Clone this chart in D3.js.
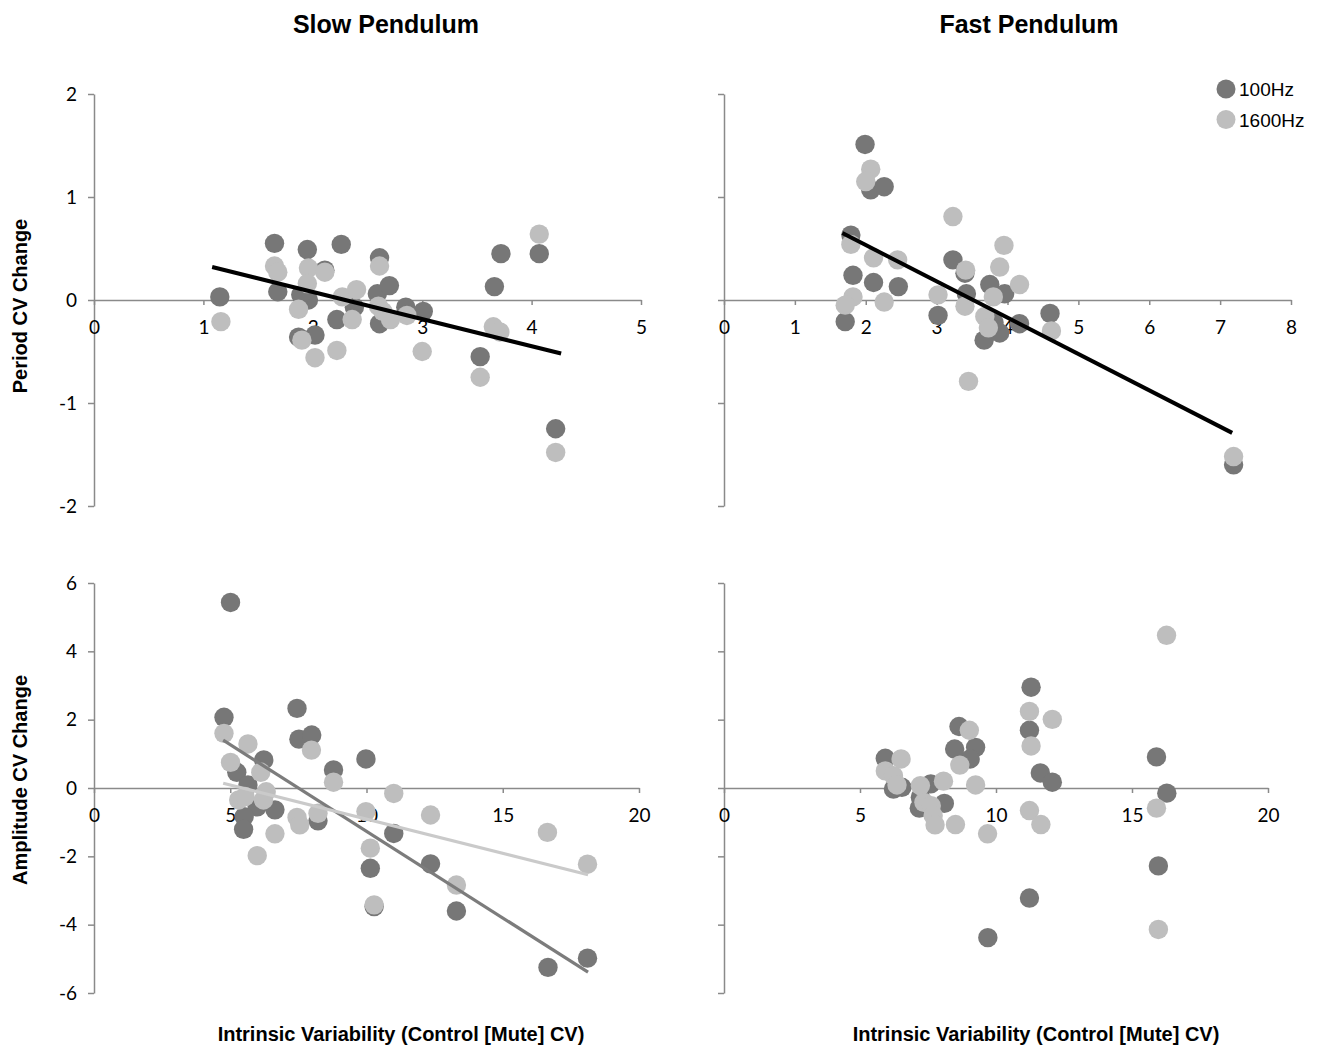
<!DOCTYPE html>
<html>
<head>
<meta charset="utf-8">
<script src="https://cdn.jsdelivr.net/npm/d3@7"></script>
<style>
  body { margin: 0; background: #fff; }
  svg { display: block; }
  .axis path, .axis line { stroke: #8a8a8a; stroke-width: 1.5; }
  .axis text { font-family: Lato, "Open Sans", sans-serif; font-size: 19px; fill: #000; }
  .title { font-family: "Liberation Sans", Arial, sans-serif; font-weight: bold; font-size: 25px; }
  .label { font-family: "Liberation Sans", Arial, sans-serif; font-weight: bold; font-size: 20px; }
  .legend text { font-family: "Liberation Sans", Arial, sans-serif; font-size: 19px; }
</style>
</head>
<body>
<svg width="1320" height="1048"></svg>
<script>
// series names / column titles
var seriesNames = ['100Hz', '1600Hz'];
var columnTitles = ['Slow Pendulum', 'Fast Pendulum'];
var rowTitles = ['Period CV Change', 'Amplitude CV Change'];
var xTitle = 'Intrinsic Variability (Control [Mute] CV)';

// tick values
var periodYTicks = [-2, -1, 0, 1, 2];
var ampYTicks = [-6, -4, -2, 0, 2, 4, 6];
var slowPeriodXTicks = [0, 1, 2, 3, 4, 5];
var fastPeriodXTicks = [0, 1, 2, 3, 4, 5, 6, 7, 8];
var ampXTicks = [0, 5, 10, 15, 20];

// slow pendulum, period
var slowPeriod100 = [
  [1.15, 0.03], [1.65, 0.55], [1.68, 0.08], [1.95, 0.49], [1.96, 0.0], [1.89, 0.05],
  [1.87, -0.36], [2.02, -0.34], [2.11, 0.29], [2.26, 0.54], [2.22, -0.19], [2.38, -0.07],
  [2.61, 0.41], [2.59, 0.06], [2.61, -0.23], [2.70, 0.14], [2.85, -0.07], [3.01, -0.11],
  [3.53, -0.55], [3.66, 0.13], [3.72, 0.45], [4.07, 0.45], [4.22, -1.25]
];
var slowPeriod1600 = [
  [1.16, -0.21], [1.65, 0.33], [1.68, 0.27], [1.96, 0.31], [1.95, 0.16], [1.87, -0.09],
  [1.90, -0.39], [2.02, -0.56], [2.11, 0.27], [2.22, -0.49], [2.27, 0.03], [2.40, 0.10],
  [2.36, -0.19], [2.61, 0.33], [2.60, -0.06], [2.64, -0.11], [2.71, -0.19], [2.86, -0.15],
  [3.00, -0.50], [3.65, -0.26], [3.71, -0.31], [3.53, -0.75], [4.07, 0.64], [4.22, -1.48]
];
var slowPeriodTrend = [[1.08, 0.32], [4.27, -0.52]];

// fast pendulum, period
var fastPeriod100 = [
  [1.99, 1.51], [2.07, 1.07], [2.26, 1.10], [1.79, 0.63], [1.82, 0.24], [2.11, 0.17],
  [2.46, 0.13], [1.71, -0.21], [3.23, 0.39], [3.02, -0.15], [3.42, 0.06], [3.40, 0.26],
  [3.75, 0.15], [3.96, 0.06], [4.17, -0.23], [4.60, -0.13], [3.67, -0.39], [3.89, -0.32],
  [3.81, -0.22], [7.19, -1.60]
];
var fastPeriod1600 = [
  [2.07, 1.27], [2.00, 1.15], [1.79, 0.54], [2.11, 0.41], [2.45, 0.39], [1.82, 0.03],
  [1.71, -0.05], [2.26, -0.02], [3.23, 0.81], [3.02, 0.05], [3.41, 0.29], [3.40, -0.06],
  [3.95, 0.53], [3.89, 0.32], [4.17, 0.15], [3.80, 0.03], [3.68, -0.16], [3.73, -0.27],
  [4.62, -0.30], [3.45, -0.79], [7.19, -1.52]
];
var fastPeriodTrend = [[1.67, 0.65], [7.17, -1.29]];

// slow pendulum, amplitude
var slowAmp100 = [
  [5.01, 5.43], [4.77, 2.07], [7.45, 2.33], [7.52, 1.43], [7.99, 1.55], [6.23, 0.82],
  [5.24, 0.46], [5.65, 0.09], [5.99, -0.55], [6.64, -0.64], [5.51, -0.84], [5.49, -1.21],
  [8.79, 0.53], [8.22, -0.96], [9.98, 0.85], [11.0, -1.33], [10.14, -2.35], [12.35, -2.22],
  [13.30, -3.60], [16.66, -5.25], [18.11, -4.98], [10.28, -3.47]
];
var slowAmp1600 = [
  [4.77, 1.60], [5.01, 0.75], [5.65, 1.29], [6.12, 0.46], [5.31, -0.35], [5.54, -0.25],
  [6.32, -0.11], [6.22, -0.35], [5.99, -1.98], [6.64, -1.34], [7.45, -0.86], [7.55, -1.08],
  [7.98, 1.11], [8.22, -0.74], [8.79, 0.17], [9.98, -0.69], [10.14, -1.76], [11.0, -0.16],
  [12.35, -0.79], [13.30, -2.84], [10.28, -3.42], [16.64, -1.30], [18.11, -2.23]
];
var slowAmpTrend100 = [[4.74, 1.40], [18.13, -5.39]];
var slowAmpTrend1600 = [[4.74, 0.14], [18.13, -2.54]];

// fast pendulum, amplitude
var fastAmp100 = [
  [5.93, 0.87], [6.23, -0.03], [6.54, 0.02], [7.60, 0.12], [7.22, -0.27], [7.18, -0.59],
  [8.10, -0.45], [8.64, 1.80], [8.48, 1.14], [9.25, 1.19], [9.05, 0.85], [11.29, 2.95],
  [11.23, 1.69], [11.63, 0.44], [12.07, 0.17], [11.23, -3.22], [9.70, -4.38], [15.90, 0.91],
  [16.28, -0.15], [15.97, -2.28]
];
var fastAmp1600 = [
  [5.93, 0.50], [6.51, 0.85], [6.23, 0.36], [6.36, 0.09], [7.22, 0.07], [7.35, -0.42],
  [7.62, -0.52], [7.69, -0.81], [7.76, -1.08], [8.07, 0.20], [8.51, -1.07], [9.02, 1.69],
  [8.67, 0.67], [9.25, 0.09], [9.69, -1.34], [11.23, 2.24], [11.29, 1.23], [11.23, -0.66],
  [11.65, -1.07], [12.07, 2.01], [16.27, 4.47], [15.90, -0.59], [15.97, -4.14]
];

var darkColor = '#777777';
var lightColor = '#bebebe';

var svg = d3.select('svg');

var panels = [
  { x: [94, 641], y: [506, 94], xTicks: slowPeriodXTicks, yTicks: periodYTicks, yLabels: true,
    dark: slowPeriod100, light: slowPeriod1600,
    trends: [{ d: slowPeriodTrend, color: '#000', w: 4 }] },
  { x: [724, 1291], y: [506, 94], xTicks: fastPeriodXTicks, yTicks: periodYTicks, yLabels: false,
    dark: fastPeriod100, light: fastPeriod1600,
    trends: [{ d: fastPeriodTrend, color: '#000', w: 4 }] },
  { x: [94, 639], y: [993, 583], xTicks: ampXTicks, yTicks: ampYTicks, yLabels: true,
    dark: slowAmp100, light: slowAmp1600,
    trends: [{ d: slowAmpTrend100, color: '#7c7c7c', w: 3.2 },
             { d: slowAmpTrend1600, color: '#cacaca', w: 3.2 }] },
  { x: [724, 1268], y: [993, 583], xTicks: ampXTicks, yTicks: ampYTicks, yLabels: false,
    dark: fastAmp100, light: fastAmp1600, trends: [] }
];

panels.forEach(function(p) {
  var x = d3.scaleLinear()
            .domain(d3.extent(p.xTicks))
            .range(p.x);
  var y = d3.scaleLinear()
            .domain(d3.extent(p.yTicks))
            .range(p.y);

  var g = svg.append('g');

  // y axis
  g.append('g')
    .attr('class', 'axis')
    .attr('transform', 'translate(' + x(0) + ',0)')
    .call(d3.axisLeft(y)
            .tickValues(p.yTicks)
            .tickSizeInner(6)
            .tickSizeOuter(0)
            .tickPadding(11)
            .tickFormat(d => p.yLabels ? String(d) : ''));

  // x axis, crossing at y = 0
  g.append('g')
    .attr('class', 'axis')
    .attr('transform', 'translate(0,' + y(0) + ')')
    .call(d3.axisBottom(x)
            .tickValues(p.xTicks)
            .tickSizeInner(5)
            .tickSizeOuter(0)
            .tickPadding(16)
            .tickFormat(d3.format('d')));

  g.selectAll('.axis .domain').attr('fill', 'none');

  g.selectAll('circle.dark')
    .data(p.dark)
    .enter()
    .append('circle')
      .attr('class', 'dark')
      .attr('cx', d => x(d[0]))
      .attr('cy', d => y(d[1]))
      .attr('r', 9.7)
      .style('fill', darkColor);

  g.selectAll('circle.light')
    .data(p.light)
    .enter()
    .append('circle')
      .attr('class', 'light')
      .attr('cx', d => x(d[0]))
      .attr('cy', d => y(d[1]))
      .attr('r', 9.7)
      .style('fill', lightColor);

  var line = d3.line()
               .x(d => x(d[0]))
               .y(d => y(d[1]));

  p.trends.forEach(function(t) {
    g.append('path')
      .datum(t.d)
      .attr('d', line)
      .style('fill', 'none')
      .style('stroke', t.color)
      .style('stroke-width', t.w);
  });
});

// column titles
svg.selectAll('text.title')
  .data(columnTitles)
  .enter()
  .append('text')
    .attr('class', 'title')
    .attr('x', (d, i) => i === 0 ? 386 : 1029)
    .attr('y', 33)
    .attr('text-anchor', 'middle')
    .text(d => d);

// row titles
svg.selectAll('text.rowlabel')
  .data(rowTitles)
  .enter()
  .append('text')
    .attr('class', 'label rowlabel')
    .attr('transform', (d, i) => 'translate(27,' + (i === 0 ? 306 : 780) + ') rotate(-90)')
    .attr('text-anchor', 'middle')
    .text(d => d);

// x titles
svg.selectAll('text.xlabel')
  .data([401, 1036])
  .enter()
  .append('text')
    .attr('class', 'label xlabel')
    .attr('x', d => d)
    .attr('y', 1041)
    .attr('text-anchor', 'middle')
    .text(xTitle);

// legend
var legend = svg.append('g')
  .attr('class', 'legend')
  .attr('transform', 'translate(1226,89)');

legend.selectAll('circle')
  .data(seriesNames)
  .enter()
  .append('circle')
    .attr('cx', 0)
    .attr('cy', (d, i) => i * 30.5)
    .attr('r', 9.5)
    .style('fill', (d, i) => i === 0 ? darkColor : lightColor);

legend.selectAll('text')
  .data(seriesNames)
  .enter()
  .append('text')
    .attr('x', 13)
    .attr('y', (d, i) => i * 30.5 + 7)
    .text(d => d);
</script>
</body>
</html>
